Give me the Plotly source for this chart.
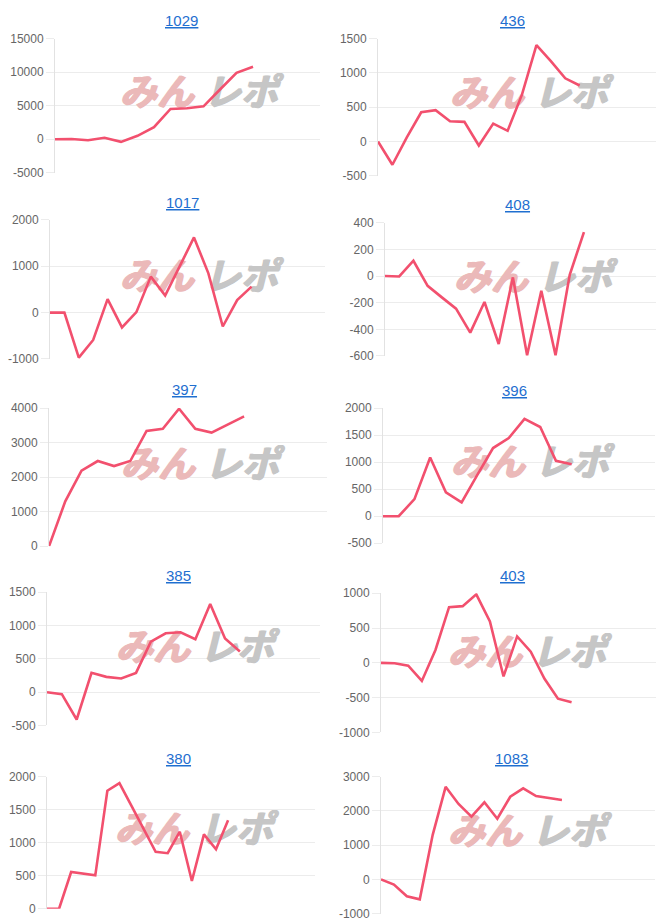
import plotly.graph_objects as go

W, H = 666, 923

# ---- data ----
titles = ["1029", "436", "1017", "408", "397", "396", "385", "403", "380", "1083"]
v1029 = [0, 30, -150, 200, -400, 500, 1800, 4500, 4600, 4900, 7400, 9900, 10800]
v436 = [0, -340, 60, 425, 455, 295, 285, -60, 260, 155, 685, 1405, 1170, 920, 815]
v1017 = [0, 0, -970, -590, 290, -320, 10, 775, 365, 980, 1620, 845, -300, 270, 560]
v408 = [0, -3, 115, -73, -160, -245, -425, -195, -510, -10, -595, -110, -595, 10, 330]
v397 = [0, 1300, 2185, 2466, 2320, 2466, 3340, 3400, 3980, 3400, 3290, 3515, 3757]
v396 = [0, 0, 315, 1085, 440, 255, 765, 1260, 1445, 1800, 1650, 1025, 960]
v385 = [0, -30, -410, 290, 230, 205, 290, 760, 885, 900, 795, 1325, 805, 610]
v403 = [0, -5, -40, -260, 185, 800, 815, 985, 595, -195, 380, 160, -225, -515, -565]
v380 = [0, 0, 555, 530, 505, 1785, 1900, 1555, 1200, 860, 840, 1165, 420, 1125, 900, 1340]
v1083 = [0, -150, -490, -580, 1300, 2700, 2200, 1830, 2250, 1770, 2410, 2655, 2430, 2380, 2315]
series = [v1029, v436, v1017, v408, v397, v396, v385, v403, v380, v1083]

y_min = [-5000, -500, -1000, -600, 0, -500, -500, -1000, 0, -1000]
y_max = [15000, 1500, 2000, 400, 4000, 2000, 1500, 1000, 2000, 3000]
y_step = [5000, 500, 1000, 200, 1000, 500, 500, 500, 500, 1000]

# ---- layout geometry (pixels): left, right, top, bottom, x slots, title x, title y ----
geom = [
    (55, 320, 39, 173, 16.06, 181, 21),
    (378, 656, 39, 176, 19.3, 512, 21),
    (50, 325, 220, 359, 19.1, 182, 203),
    (385, 656, 223, 356, 19.07, 517, 205),
    (49, 327, 408, 546, 17.1, 184, 389),
    (383, 655, 408, 543, 17.3, 514, 390),
    (47, 320, 592, 725, 18.4, 178, 575),
    (381, 656, 593, 732, 20.2, 512, 575),
    (47, 315, 776, 908, 22.2, 178, 758),
    (381, 655, 776, 913, 21.2, 511, 758),
]
wm_centers = [(199, 96), (529, 97), (199, 280), (533, 281), (200, 468),
              (530, 466), (195, 650), (527, 655), (194, 832), (527, 834)]

# the rendered page shows a slight vertical squeeze about its centre; pre-compensate
SQ, OFF = 0.9835, 7.5


def py(v):
    return (v - OFF) / SQ


LINE = "#f2506e"
GRID = "#ececec"
FONT = "Liberation Sans, Arial, sans-serif"
PINK, GRAY = "#ebb9b9", "#c6c6c6"

fig = go.Figure()
layout = dict(
    width=W, height=H, margin=dict(l=0, r=0, t=0, b=0),
    paper_bgcolor="white", plot_bgcolor="white", showlegend=False,
    font=dict(family=FONT, color="#666", size=12),
    annotations=[],
)

for i, (vals, (l, r, t, b, xs, tx, ty)) in enumerate(zip(series, geom)):
    k = "" if i == 0 else str(i + 1)
    xa, ya = "x" + k, "y" + k
    t2, b2 = py(t), py(b)
    cx, cy = wm_centers[i]
    cy2 = py(cy)

    def to_data(px, pyy):
        return ((px - l) / (r - l) * xs,
                y_min[i] + (b2 - pyy) / (b2 - t2) * (y_max[i] - y_min[i]))

    for word, dx, col in (("みん", -42, PINK), ("レポ", 42, GRAY)):
        p = to_data(cx + dx, cy2)
        fig.add_trace(go.Scatter(
            x=[p[0]], y=[p[1]], mode="text", text=[word],
            textfont=dict(family="Noto Sans CJK JP", size=37, weight="bold",
                          style="italic", color=col,
                          shadow=f"1px 0px 0px {col}, -1px 0px 0px {col}, 0px 1px 0px {col}"),
            xaxis=xa, yaxis=ya, hoverinfo="skip", cliponaxis=False,
        ))
    days = list(range(len(vals)))
    fig.add_trace(go.Scatter(
        x=days, y=vals, mode="lines",
        line=dict(color=LINE, width=2.6),
        xaxis=xa, yaxis=ya, hoverinfo="skip",
    ))
    tv = list(range(y_min[i], y_max[i] + 1, y_step[i]))
    layout["xaxis" + k] = dict(
        domain=[l / W, r / W], range=[0, xs], anchor=ya,
        showgrid=False, zeroline=False, showticklabels=False, showline=False,
        fixedrange=True,
    )
    layout["yaxis" + k] = dict(
        domain=[1 - b2 / H, 1 - t2 / H], range=[y_min[i], y_max[i]],
        tickmode="array", tickvals=tv, ticktext=[str(v) for v in tv],
        anchor=xa,
        showgrid=True, gridcolor=GRID, gridwidth=1, zeroline=False,
        showline=True, linecolor="#e2e2e2", linewidth=1,
        ticks="outside", ticklen=8, tickcolor=GRID, tickwidth=1,
        tickfont=dict(family=FONT, size=12, color="#666"),
        fixedrange=True,
    )
    layout["annotations"].append(dict(
        x=tx / W, y=1 - py(ty) / H, xref="paper", yref="paper",
        text="<u>" + titles[i] + "</u>", showarrow=False,
        font=dict(family=FONT, size=15, color="#1f6fd0"),
        xanchor="center", yanchor="middle",
    ))

fig.update_layout(**layout)
fig.write_html(
    "out.html",
    config={"displayModeBar": False},
    post_script="document.body.style.margin='0';document.body.style.padding='0';"
                "document.documentElement.style.overflow='hidden';",
)
